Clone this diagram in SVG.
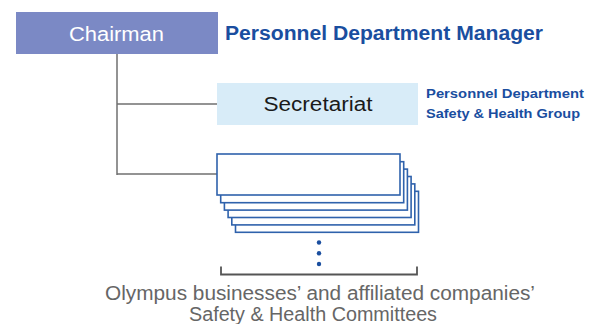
<svg xmlns="http://www.w3.org/2000/svg" width="590" height="324" viewBox="0 0 590 324">
<defs>
<style>
.conn{stroke:#707070;stroke-width:1.5;fill:none}
.card{fill:#fff;stroke:#2F62AC;stroke-width:1.6}
.blue{fill:#1A4E9F;font-family:"Liberation Sans",Arial,sans-serif;font-weight:bold}
.sans{font-family:"Liberation Sans",Arial,sans-serif}
</style>
</defs>
<rect width="590" height="324" fill="#fff"/>
<g id="connectors">
<path class="conn" d="M117 54V175M117 104H217M117 174H217"/>
</g>
<g id="chairman">
<rect x="16" y="12" width="202" height="42" fill="#7B89C5"/>
<text class="sans" x="69" y="40.5" fill="#fff" font-size="20" textLength="95" lengthAdjust="spacingAndGlyphs">Chairman</text>
</g>
<text class="blue" x="225" y="39.5" font-size="19.5" textLength="318" lengthAdjust="spacingAndGlyphs">Personnel Department Manager</text>
<g id="secretariat">
<rect x="217" y="83" width="201" height="42" fill="#D8ECF8"/>
<text class="sans" x="263.5" y="110.7" fill="#1a1a1a" font-size="20" textLength="109" lengthAdjust="spacingAndGlyphs">Secretariat</text>
</g>
<g id="secretariat-label" class="blue" font-size="13.5">
<text x="426" y="97.5" textLength="158" lengthAdjust="spacingAndGlyphs">Personnel Department</text>
<text x="426" y="117.5" textLength="154" lengthAdjust="spacingAndGlyphs">Safety &amp; Health Group</text>
</g>
<g id="committees">
<rect class="card" x="235.5" y="191.3" width="183" height="41"/>
<rect class="card" x="231.8" y="183.9" width="183" height="41"/>
<rect class="card" x="228.1" y="176.5" width="183" height="41"/>
<rect class="card" x="224.4" y="169.1" width="183" height="41"/>
<rect class="card" x="220.7" y="161.7" width="183" height="41"/>
<rect class="card" x="217" y="154" width="183" height="41"/>
</g>
<g id="ellipsis" fill="#1A4E9F">
<circle cx="319" cy="242.5" r="2.2"/>
<circle cx="319" cy="253.3" r="2.2"/>
<circle cx="319" cy="264" r="2.2"/>
</g>
<path d="M221 266.5V274.5H417V266.5" fill="none" stroke="#555" stroke-width="1.8"/>
<g id="caption" class="sans" fill="#666" font-size="20">
<text x="105" y="299.5" textLength="430" lengthAdjust="spacingAndGlyphs">Olympus businesses’ and affiliated companies’</text>
<text x="189" y="320.5" textLength="248" lengthAdjust="spacingAndGlyphs">Safety &amp; Health Committees</text>
</g>
</svg>
